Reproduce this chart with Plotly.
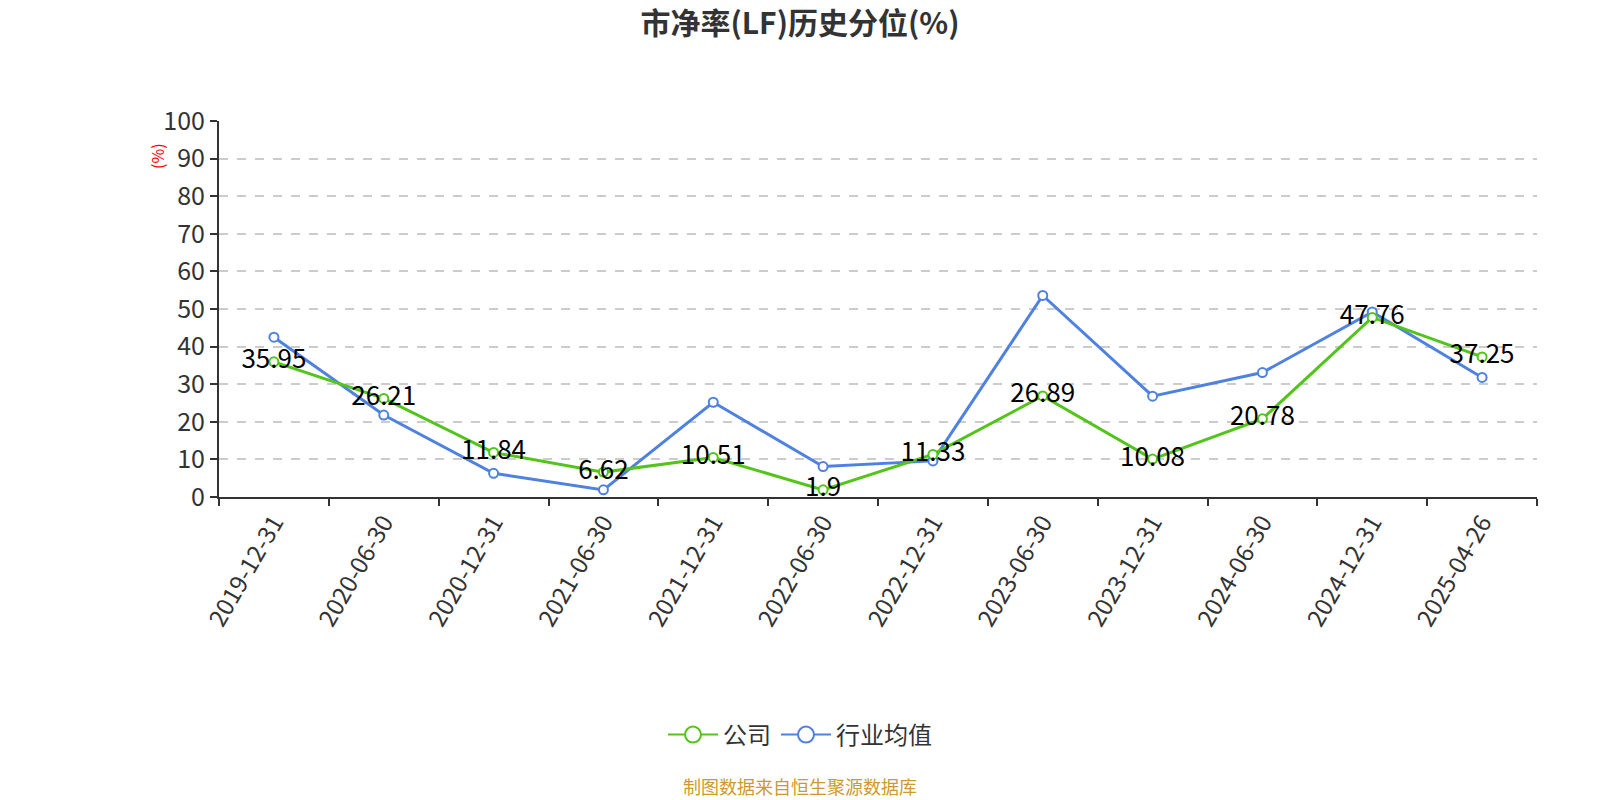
import plotly.graph_objects as go

categories = ["2019-12-31", "2020-06-30", "2020-12-31", "2021-06-30", "2021-12-31",
              "2022-06-30", "2022-12-31", "2023-06-30", "2023-12-31", "2024-06-30",
              "2024-12-31", "2025-04-26"]
company = [35.95, 26.21, 11.84, 6.62, 10.51, 1.9, 11.33, 26.89, 10.08, 20.78, 47.76, 37.25]
industry = [42.5, 21.8, 6.3, 1.9, 25.2, 8.1, 9.6, 53.6, 26.8, 33.1, 49.2, 31.8]
company_labels = ["35.95", "26.21", "11.84", "6.62", "10.51", "1.9", "11.33", "26.89",
                  "10.08", "20.78", "47.76", "37.25"]
y_ticks = [0, 10, 20, 30, 40, 50, 60, 70, 80, 90, 100]

FONT = "Noto Sans CJK SC"
GREEN = "#52C41A"
BLUE = "#4F82E0"

L, R, T, B = 219, 63, 121, 303
W, H = 1600, 800
PW, PH = W - L - R, H - T - B


def px_x(x):
    return (x - L) / PW


def px_y(y):
    return (H - B - y) / PH


fig = go.Figure()
fig.add_trace(go.Scatter(
    x=categories, y=industry, name="行业均值", mode="lines+markers", showlegend=False,
    line=dict(color=BLUE, width=3),
    marker=dict(symbol="circle", size=9, color="#ffffff", line=dict(color=BLUE, width=2)),
))
fig.add_trace(go.Scatter(
    x=categories, y=company, name="公司", mode="lines+markers+text", showlegend=False,
    text=company_labels, textposition="middle center",
    textfont=dict(family=FONT, size=26, color="#000000"),
    line=dict(color=GREEN, width=3),
    marker=dict(symbol="circle", size=9, color="#ffffff", line=dict(color=GREEN, width=2)),
))
# legend entries with large hollow circle icons
for nm, col in [("公司", GREEN), ("行业均值", BLUE)]:
    fig.add_trace(go.Scatter(
        x=[None], y=[None], name=nm, mode="lines+markers", showlegend=True,
        line=dict(color=col, width=2),
        marker=dict(symbol="circle", size=20, color="#ffffff", line=dict(color=col, width=2)),
    ))

fig.update_layout(
    width=W, height=H,
    paper_bgcolor="#ffffff", plot_bgcolor="#ffffff",
    margin=dict(l=L, r=R, t=T, b=B),
    font=dict(family=FONT, color="#333333"),
    title=dict(text="<b>市净率(LF)历史分位(%)</b>", x=0.5, xanchor="center",
               y=1 - 23 / H, yanchor="middle", yref="container",
               font=dict(family=FONT, size=30, color="#333333")),
    showlegend=True,
    legend=dict(orientation="h", x=0.5, xanchor="center", xref="container",
                y=1 - 735 / H, yanchor="middle", yref="container",
                font=dict(family=FONT, size=24, color="#333333"),
                itemwidth=50),
    xaxis=dict(type="category", range=[-0.5, 11.5], tickson="boundaries",
               showline=True, linecolor="#333333", linewidth=2,
               ticks="outside", ticklen=7, tickcolor="#333333", tickwidth=2,
               tickangle=-60, tickfont=dict(family=FONT, size=24, color="#333333"),
               showgrid=False, zeroline=False),
    yaxis=dict(range=[0, 100], tickvals=y_ticks, showline=True, linecolor="#333333",
               linewidth=2, ticks="outside", ticklen=7, tickcolor="#333333", tickwidth=2,
               tickfont=dict(family=FONT, size=25, color="#333333"),
               showgrid=True, gridcolor="#cccccc", griddash="dash", gridwidth=1.5,
               zeroline=False),
    annotations=[
        dict(text="(%)", x=px_x(157), y=px_y(156), xref="paper", yref="paper",
             xanchor="center", yanchor="middle",
             showarrow=False, textangle=-90, font=dict(family=FONT, size=16, color="#ff0000")),
        dict(text="制图数据来自恒生聚源数据库", x=px_x(800), y=px_y(786),
             xref="paper", yref="paper", xanchor="center", yanchor="middle",
             showarrow=False, font=dict(family=FONT, size=18, color="#CC9A2E")),
    ],
)

fig.write_html("out.html", config={"displayModeBar": False},
               post_script="document.body.style.margin='0';document.body.style.overflow='hidden';")
